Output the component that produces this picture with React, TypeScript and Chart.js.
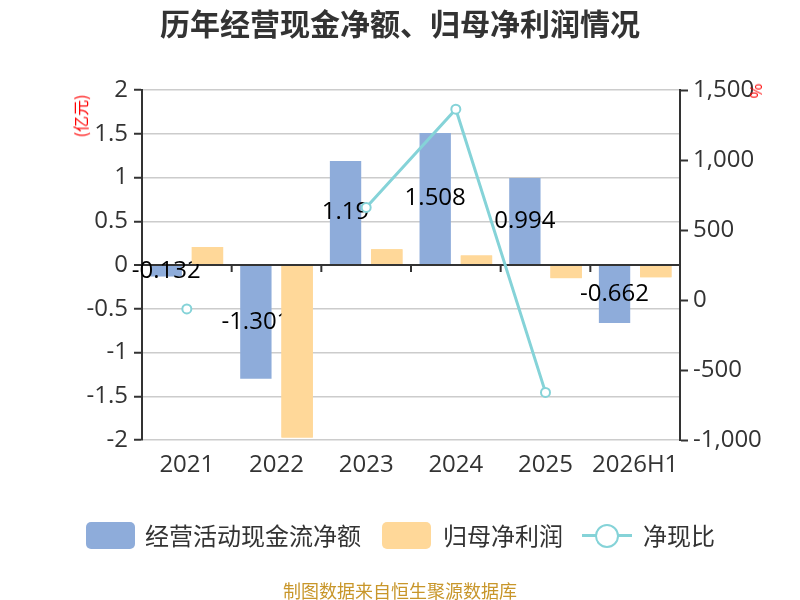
import React, { useEffect, useRef } from "react";
import { Chart, registerables } from "chart.js";

Chart.register(...registerables);

const categories = ["2021", "2022", "2023", "2024", "2025", "2026H1"];
const cashFlow = [-0.132, -1.301, 1.19, 1.508, 0.994, -0.662];
const netProfit = [0.206, -1.97, 0.18, 0.11, -0.15, -0.14];
const cashRatio: (number | null)[] = [-64, null, 661, 1363, -660, null];

const leftMin = -2;
const leftMax = 2;
const leftStep = 0.5;
const rightMin = -1000;
const rightMax = 1500;
const rightStep = 500;

const BLUE = "#8EACDA";
const ORANGE = "#FFD899";
const TEAL = "#85D3D8";
const AXIS = "#333333";
const GRID = "#CCCCCC";
const NUM_FONT = '"Open Sans", "Noto Sans", sans-serif';
const CJK_FONT = '"Noto Sans CJK SC", "Noto Sans", sans-serif';

const overlayPlugin = {
  id: "overlay",
  beforeDatasetsDraw(chart: any) {
    const ctx = chart.ctx;
    const xs = chart.scales.x;
    const ys = chart.scales.y;
    const y0 = ys.getPixelForValue(0);
    ctx.save();
    ctx.strokeStyle = AXIS;
    ctx.lineWidth = 2;
    for (let i = 0; i < categories.length - 1; i++) {
      const bx = (xs.getPixelForValue(i) + xs.getPixelForValue(i + 1)) / 2;
      ctx.beginPath();
      ctx.moveTo(bx, y0);
      ctx.lineTo(bx, y0 + 7);
      ctx.stroke();
    }
    ctx.restore();
  },
  afterDatasetDraw(chart: any, args: any) {
    if (args.index !== 0) return;
    const ctx = chart.ctx;
    ctx.save();
    ctx.font = `24px ${NUM_FONT}`;
    ctx.fillStyle = "#000";
    ctx.textAlign = "center";
    ctx.textBaseline = "middle";
    args.meta.data.forEach((el: any, i: number) => {
      const p = el.getProps(["x", "y", "base"], true);
      ctx.fillText(String(cashFlow[i]), p.x, (p.y + p.base) / 2);
    });
    ctx.restore();
    // redraw the second series over the labels, as in the reference
    const m1 = chart.getDatasetMeta(1);
    const a = chart.chartArea;
    ctx.save();
    ctx.beginPath();
    ctx.rect(a.left, a.top, a.right - a.left, a.bottom - a.top);
    ctx.clip();
    m1.data.forEach((el: any) => el.draw(ctx));
    ctx.restore();
  },
};

export default function App() {
  const ref = useRef<HTMLCanvasElement | null>(null);

  useEffect(() => {
    if (!ref.current) return;
    const chart = new Chart(ref.current, {
      type: "bar",
      data: {
        labels: categories,
        datasets: [
          {
            type: "bar",
            label: "经营活动现金流净额",
            data: cashFlow,
            backgroundColor: BLUE,
            yAxisID: "y",
            order: 1,
            categoryPercentage: 0.92,
            barPercentage: 0.76,
          },
          {
            type: "bar",
            label: "归母净利润",
            data: netProfit,
            backgroundColor: ORANGE,
            yAxisID: "y",
            order: 2,
            categoryPercentage: 0.92,
            barPercentage: 0.76,
          },
          {
            type: "line",
            label: "净现比",
            data: cashRatio,
            borderColor: TEAL,
            borderWidth: 3,
            backgroundColor: "#fff",
            pointBackgroundColor: "#fff",
            pointBorderColor: TEAL,
            pointBorderWidth: 2,
            pointRadius: 4.5,
            spanGaps: false,
            yAxisID: "y1",
            order: 0,
          } as any,
        ],
      },
      options: {
        responsive: false,
        animation: false,
        layout: { padding: { top: 90, bottom: 0, left: 0, right: 0 } },
        plugins: {
          legend: { display: false },
          title: { display: false },
          tooltip: { enabled: false },
        },
        scales: {
          x: {
            type: "category",
            grid: { display: false, drawTicks: false },
            border: { display: false },
            ticks: {
              color: AXIS,
              font: { family: NUM_FONT, size: 24 },
              padding: 11,
              maxRotation: 0,
              autoSkip: false,
            },
            afterFit: (s: any) => {
              s.height = 160;
            },
          },
          y: {
            position: "left",
            min: leftMin,
            max: leftMax,
            ticks: {
              stepSize: leftStep,
              color: AXIS,
              font: { family: NUM_FONT, size: 24 },
              padding: 6,
              callback: (v: any) => String(Math.round(Number(v) * 100) / 100),
            },
            grid: {
              color: (c: any) => (c.tick && c.tick.value === 0 ? AXIS : GRID),
              lineWidth: (c: any) => (c.tick && c.tick.value === 0 ? 2 : 1.5),
              tickColor: AXIS,
              tickLength: 8,
              tickWidth: 2,
            },
            border: { display: true, color: AXIS, width: 2 },
            afterFit: (s: any) => {
              s.width = 142;
            },
          },
          y1: {
            position: "right",
            min: rightMin,
            max: rightMax,
            ticks: {
              stepSize: rightStep,
              color: AXIS,
              font: { family: NUM_FONT, size: 24 },
              padding: 5,
            },
            grid: {
              drawOnChartArea: false,
              tickColor: AXIS,
              tickLength: 8,
              tickWidth: 2,
            },
            border: { display: true, color: AXIS, width: 2 },
            afterFit: (s: any) => {
              s.width = 120;
            },
          },
        },
      } as any,
      plugins: [overlayPlugin],
    });
    return () => chart.destroy();
  }, []);

  const textBase: React.CSSProperties = {
    position: "absolute",
    fontFamily: CJK_FONT,
    color: "#333",
    whiteSpace: "nowrap",
    lineHeight: 1,
  };

  return (
    <div
      style={{
        position: "absolute",
        left: 0,
        top: 0,
        width: 800,
        height: 600,
        background: "#fff",
        overflow: "hidden",
      }}
    >
      <canvas
        ref={ref}
        width={800}
        height={600}
        style={{ position: "absolute", left: 0, top: 0, width: 800, height: 600, display: "block" }}
      />
      <div
        style={{
          ...textBase,
          left: 0,
          width: 800,
          top: 7,
          textAlign: "center",
          fontSize: 30,
          fontWeight: "bold",
        }}
      >
        历年经营现金净额、归母净利润情况
      </div>
      <div
        style={{
          ...textBase,
          left: 80,
          top: 116,
          fontSize: 16,
          color: "#ff0000",
          transform: "translate(-50%, -50%) rotate(-90deg)",
        }}
      >
        (亿元)
      </div>
      <div
        style={{
          ...textBase,
          left: 757,
          top: 91,
          fontSize: 16,
          color: "#ff0000",
          transform: "translate(-50%, -50%) rotate(90deg)",
        }}
      >
        %
      </div>
      {/* legend */}
      <div style={{ position: "absolute", left: 86, top: 522, width: 49, height: 27, borderRadius: 5, background: BLUE }} />
      <div style={{ ...textBase, left: 145, top: 523, fontSize: 24 }}>经营活动现金流净额</div>
      <div style={{ position: "absolute", left: 382, top: 522, width: 49, height: 27, borderRadius: 5, background: ORANGE }} />
      <div style={{ ...textBase, left: 443, top: 523, fontSize: 24 }}>归母净利润</div>
      <div style={{ position: "absolute", left: 582, top: 534, width: 50, height: 3, background: TEAL }} />
      <div
        style={{
          position: "absolute",
          left: 607 - 12,
          top: 535.5 - 12,
          width: 24,
          height: 24,
          boxSizing: "border-box",
          borderRadius: "50%",
          border: `2.5px solid ${TEAL}`,
          background: "#fff",
        }}
      />
      <div style={{ ...textBase, left: 643, top: 523, fontSize: 24 }}>净现比</div>
      <div
        style={{
          ...textBase,
          left: 0,
          width: 800,
          top: 581,
          textAlign: "center",
          fontSize: 18,
          color: "#C8962A",
        }}
      >
        制图数据来自恒生聚源数据库
      </div>
    </div>
  );
}
